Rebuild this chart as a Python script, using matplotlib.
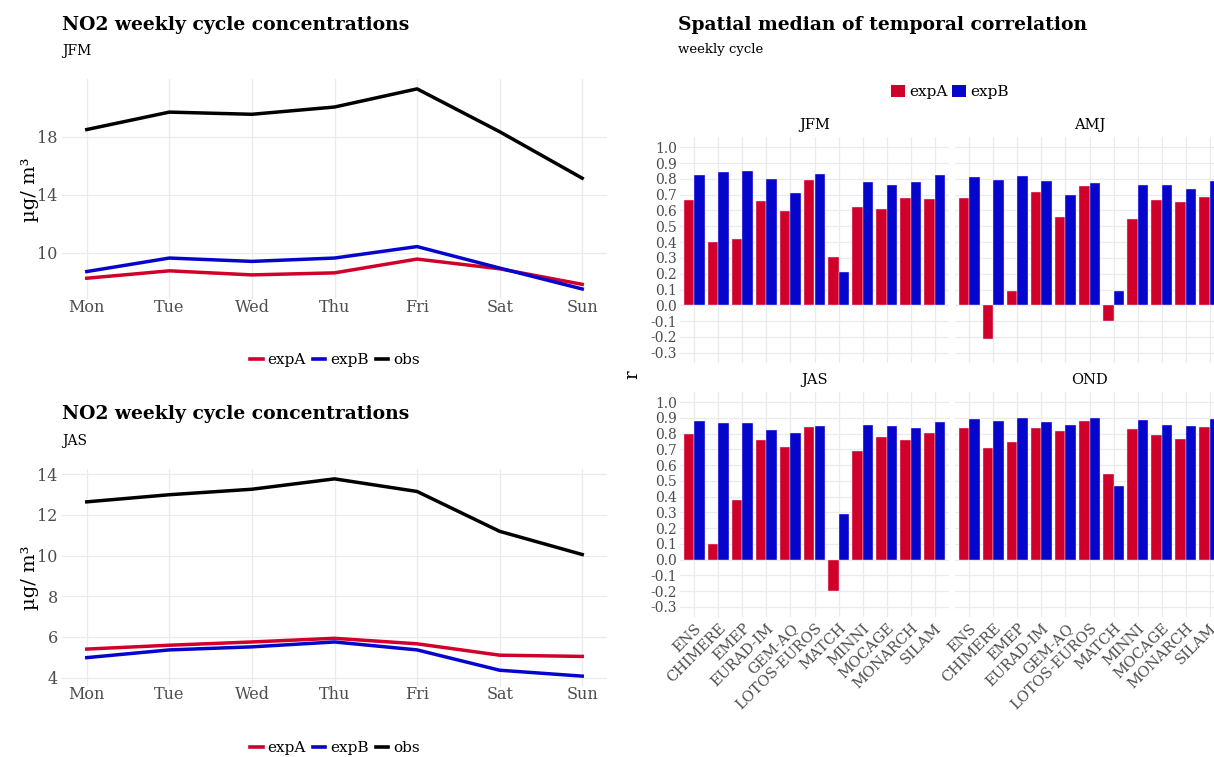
import matplotlib
matplotlib.use('Agg')
import matplotlib.pyplot as plt
import numpy as np
from matplotlib.patches import Patch
from matplotlib.lines import Line2D

plt.rcParams['font.family'] = ['DejaVu Serif', 'DejaVu Sans']

# ---------------- data ----------------
days = ['Mon', 'Tue', 'Wed', 'Thu', 'Fri', 'Sat', 'Sun']

jfm_obs = [18.5, 19.7, 19.55, 20.05, 21.3, 18.35, 15.15]
jfm_expA = [8.26, 8.77, 8.49, 8.63, 9.58, 8.91, 7.84]
jfm_expB = [8.72, 9.65, 9.42, 9.65, 10.44, 8.96, 7.52]

jas_obs = [12.64, 12.99, 13.26, 13.77, 13.15, 11.19, 10.05]
jas_expA = [5.40, 5.59, 5.75, 5.93, 5.66, 5.10, 5.04]
jas_expB = [4.98, 5.36, 5.51, 5.75, 5.36, 4.36, 4.07]

jfm_yticks = [10, 14, 18]
jas_yticks = [4, 6, 8, 10, 12, 14]

models = ['ENS', 'CHIMERE', 'EMEP', 'EURAD-IM', 'GEM-AQ', 'LOTOS-EUROS',
          'MATCH', 'MINNI', 'MOCAGE', 'MONARCH', 'SILAM']
seasons = ['JFM', 'AMJ', 'JAS', 'OND']

r_expA_JFM = [0.667, 0.40, 0.42, 0.659, 0.594, 0.794, 0.305, 0.619, 0.611, 0.68, 0.674]
r_expB_JFM = [0.825, 0.842, 0.848, 0.802, 0.709, 0.829, 0.21, 0.779, 0.764, 0.779, 0.823]
r_expA_AMJ = [0.678, -0.21, 0.09, 0.714, 0.56, 0.758, -0.099, 0.549, 0.667, 0.655, 0.688]
r_expB_AMJ = [0.81, 0.794, 0.817, 0.785, 0.70, 0.773, 0.09, 0.764, 0.764, 0.735, 0.785]
r_expA_JAS = [0.795, 0.10, 0.38, 0.757, 0.715, 0.844, -0.20, 0.693, 0.78, 0.761, 0.805]
r_expB_JAS = [0.879, 0.871, 0.867, 0.824, 0.805, 0.852, 0.292, 0.856, 0.846, 0.839, 0.873]
r_expA_OND = [0.835, 0.71, 0.75, 0.835, 0.814, 0.882, 0.541, 0.827, 0.79, 0.767, 0.844]
r_expB_OND = [0.896, 0.879, 0.90, 0.875, 0.854, 0.90, 0.465, 0.884, 0.856, 0.848, 0.896]

r_ticks = [-0.3, -0.2, -0.1, 0.0, 0.1, 0.2, 0.3, 0.4, 0.5, 0.6, 0.7, 0.8, 0.9, 1.0]

# ---------------- style ----------------
RED = '#D0002A'
BLUE = '#0505CC'
BLACK = '#000000'
GRID = '#EBEBEB'
TXT = '#4D4D4D'

W, H = 1214, 757
fig = plt.figure(figsize=(W / 100, H / 100), dpi=100)


def add_ax(x0, y0, x1, y1):
    return fig.add_axes([x0 / W, 1 - y1 / H, (x1 - x0) / W, (y1 - y0) / H])


def style(ax):
    for s in ax.spines.values():
        s.set_visible(False)
    ax.tick_params(length=0, colors=TXT)
    ax.set_axisbelow(True)
    ax.grid(True, color=GRID, lw=0.9)


def line_panel(box, obs, a, b, yticks, ylim):
    ax = add_ax(*box)
    style(ax)
    x = np.arange(len(days))
    ax.plot(x, a, color=RED, lw=2.5)
    ax.plot(x, b, color=BLUE, lw=2.5)
    ax.plot(x, obs, color=BLACK, lw=2.5)
    ax.set_xlim(-0.3, 6.3)
    ax.set_ylim(*ylim)
    ax.set_xticks(x)
    ax.set_xticklabels(days, fontsize=11.5)
    ax.set_yticks(yticks)
    ax.set_yticklabels([str(t) for t in yticks], fontsize=11.5)
    ax.tick_params(axis='x', pad=0)
    ax.tick_params(axis='y', pad=3)
    return ax


TITLE_FS = 13.5

# left top
line_panel((62, 79, 607, 299), jfm_obs, jfm_expA, jfm_expB, jfm_yticks, (6.83, 21.98))
fig.text(62 / W, 1 - 25 / H, 'NO2 weekly cycle concentrations', fontsize=TITLE_FS,
         fontweight='bold', va='center', ha='left')
fig.text(62 / W, 1 - 51 / H, 'JFM', fontsize=10, va='center', ha='left')
fig.text(30 / W, 1 - 190 / H, 'µg/ m³', rotation=90, fontsize=14, va='center', ha='center')

# left bottom
line_panel((62, 469, 607, 686), jas_obs, jas_expA, jas_expB, jas_yticks, (3.585, 14.255))
fig.text(62 / W, 1 - 414 / H, 'NO2 weekly cycle concentrations', fontsize=TITLE_FS,
         fontweight='bold', va='center', ha='left')
fig.text(62 / W, 1 - 441 / H, 'JAS', fontsize=10, va='center', ha='left')
fig.text(30 / W, 1 - 578 / H, 'µg/ m³', rotation=90, fontsize=14, va='center', ha='center')

line_handles = [Line2D([], [], color=RED, lw=2.6),
                Line2D([], [], color=BLUE, lw=2.6),
                Line2D([], [], color=BLACK, lw=2.6)]
for yc in (360, 748):
    fig.legend(line_handles, ['expA', 'expB', 'obs'], loc='center',
               bbox_to_anchor=(335 / W, 1 - yc / H), ncol=3, frameon=False,
               fontsize=11, handlelength=0.8, handletextpad=0.3, columnspacing=0.5)

# right: facets
fig.text(678 / W, 1 - 25 / H, 'Spatial median of temporal correlation', fontsize=TITLE_FS,
         fontweight='bold', va='center', ha='left')
fig.text(678 / W, 1 - 50 / H, 'weekly cycle', fontsize=9.5, va='center', ha='left')
fig.text(632 / W, 1 - 375 / H, 'r', rotation=90, fontsize=13, va='center', ha='center')

season_data = {
    'JFM': (r_expA_JFM, r_expB_JFM),
    'AMJ': (r_expA_AMJ, r_expB_AMJ),
    'JAS': (r_expA_JAS, r_expB_JAS),
    'OND': (r_expA_OND, r_expB_OND),
}
col_x = [(680, 949), (955, 1224)]
row_y = [(137, 363), (392, 617)]
strip_y = [125, 380]

xm = np.arange(1, len(models) + 1)
for i, s in enumerate(seasons):
    r, c = divmod(i, 2)
    x0, x1 = col_x[c]
    y0, y1 = row_y[r]
    ax = add_ax(x0, y0, x1, y1)
    style(ax)
    a, b = season_data[s]
    ax.bar(xm - 0.225, a, width=0.45, color=RED, edgecolor='#F0E6FF', linewidth=0.3)
    ax.bar(xm + 0.225, b, width=0.45, color=BLUE, edgecolor='#F0E6FF', linewidth=0.3)
    ax.set_xlim(0.4, 11.6)
    ax.set_ylim(-0.365, 1.065)
    ax.set_xticks(xm)
    ax.set_yticks(r_ticks)
    if c == 0:
        ax.set_yticklabels(['%.1f' % t if t >= 0 else '-%.1f' % abs(t) for t in r_ticks],
                           fontsize=10)
    else:
        ax.set_yticklabels([])
    if r == 1:
        ax.set_xticklabels(models, rotation=45, ha='right', va='top',
                           rotation_mode='anchor', fontsize=10.5)
    else:
        ax.set_xticklabels([])
    ax.tick_params(axis='y', pad=2)
    ax.tick_params(axis='x', pad=3)
    fig.text((x0 + x1) / 2 / W, 1 - strip_y[r] / H, s, fontsize=10.5,
             va='center', ha='center')

bar_handles = [Patch(facecolor=RED, edgecolor='none'), Patch(facecolor=BLUE, edgecolor='none')]
fig.legend(bar_handles, ['expA', 'expB'], loc='center', bbox_to_anchor=(950 / W, 1 - 92 / H),
           ncol=2, frameon=False, fontsize=11, handlelength=0.9, handleheight=0.9,
           handletextpad=0.3, columnspacing=0.3)

fig.savefig('out.png', dpi=100)
